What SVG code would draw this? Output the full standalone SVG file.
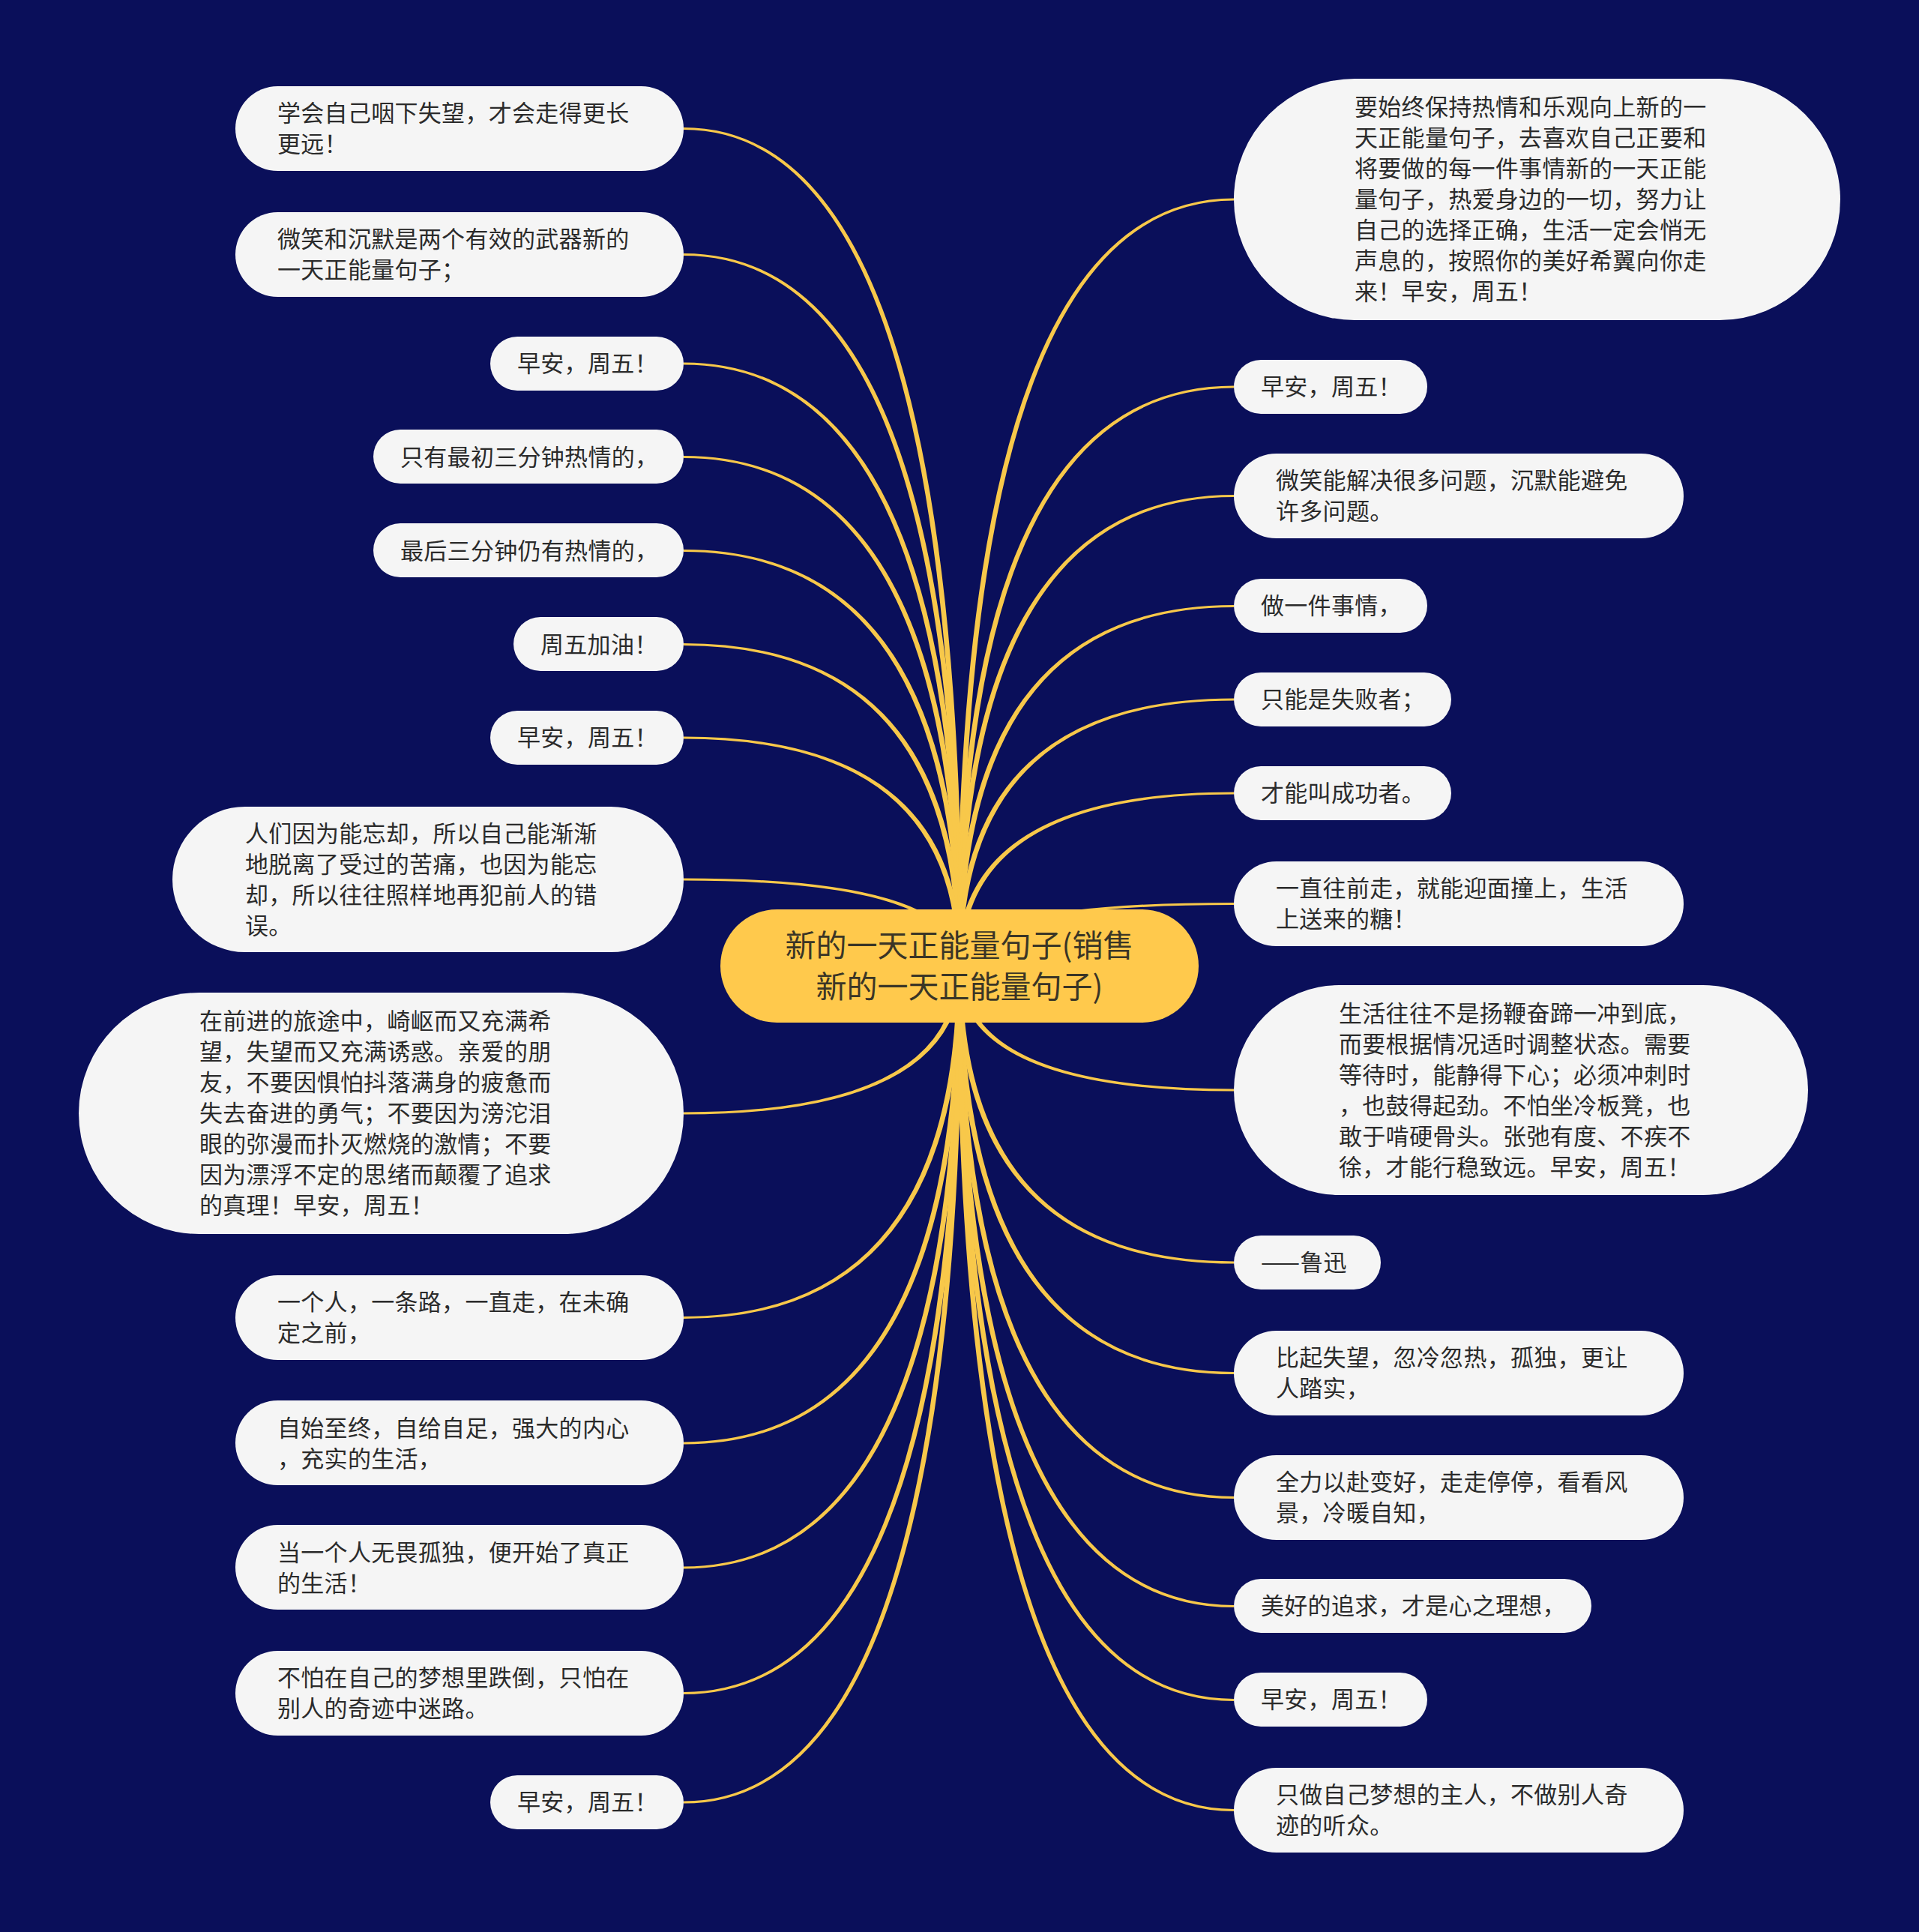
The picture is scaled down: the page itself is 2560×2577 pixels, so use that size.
<svg xmlns="http://www.w3.org/2000/svg" width="2560" height="2577" viewBox="0 0 2560 2577">
<style>
.bg{fill:#0A0F5A}
.node rect{fill:#F5F5F5}
.node text{font-family:"Noto Sans CJK SC","Noto Sans",sans-serif;font-size:31px;letter-spacing:0.3px;fill:#2B2B2B}
.root rect{fill:#FFC94C}
.root text{font-family:"Noto Sans CJK SC","Noto Sans",sans-serif;font-size:41px;fill:#3A3526;text-anchor:middle}
.links path{fill:#F8C84A;stroke:none}
</style>
<rect class="bg" x="0" y="0" width="2560" height="2577"/>
<g id="connectors" class="links">
<path d="M1283.5 1288 Q1283.5 169.9 912 169.9 L912 173.1 Q1276.5 173.1 1276.5 1288 Z"/>
<path d="M1283.5 1288 Q1283.5 337.9 912 337.9 L912 341.1 Q1276.5 341.1 1276.5 1288 Z"/>
<path d="M1283.5 1288 Q1283.5 483.4 912 483.4 L912 486.6 Q1276.5 486.6 1276.5 1288 Z"/>
<path d="M1283.5 1288 Q1283.5 607.9 912 607.9 L912 611.1 Q1276.5 611.1 1276.5 1288 Z"/>
<path d="M1283.5 1288 Q1283.5 732.9 912 732.9 L912 736.1 Q1276.5 736.1 1276.5 1288 Z"/>
<path d="M1283.5 1288 Q1283.5 857.9 912 857.9 L912 861.1 Q1276.5 861.1 1276.5 1288 Z"/>
<path d="M1283.5 1288 Q1283.5 982.4 912 982.4 L912 985.6 Q1276.5 985.6 1276.5 1288 Z"/>
<path d="M1283.5 1288 Q1283.5 1171.4 912 1171.4 L912 1174.6 Q1276.5 1174.6 1276.5 1288 Z"/>
<path d="M1283.5 1288 Q1283.5 1486.6 912 1486.6 L912 1483.4 Q1276.5 1483.4 1276.5 1288 Z"/>
<path d="M1283.5 1288 Q1283.5 1759.1 912 1759.1 L912 1755.9 Q1276.5 1755.9 1276.5 1288 Z"/>
<path d="M1283.5 1288 Q1283.5 1926.6 912 1926.6 L912 1923.4 Q1276.5 1923.4 1276.5 1288 Z"/>
<path d="M1283.5 1288 Q1283.5 2092.6 912 2092.6 L912 2089.4 Q1276.5 2089.4 1276.5 1288 Z"/>
<path d="M1283.5 1288 Q1283.5 2260.1 912 2260.1 L912 2256.9 Q1276.5 2256.9 1276.5 1288 Z"/>
<path d="M1283.5 1288 Q1283.5 2405.6 912 2405.6 L912 2402.4 Q1276.5 2402.4 1276.5 1288 Z"/>
<path d="M1276.5 1288 Q1276.5 264.4 1646 264.4 L1646 267.6 Q1283.5 267.6 1283.5 1288 Z"/>
<path d="M1276.5 1288 Q1276.5 514.4 1646 514.4 L1646 517.6 Q1283.5 517.6 1283.5 1288 Z"/>
<path d="M1276.5 1288 Q1276.5 659.9 1646 659.9 L1646 663.1 Q1283.5 663.1 1283.5 1288 Z"/>
<path d="M1276.5 1288 Q1276.5 806.9 1646 806.9 L1646 810.1 Q1283.5 810.1 1283.5 1288 Z"/>
<path d="M1276.5 1288 Q1276.5 931.4 1646 931.4 L1646 934.6 Q1283.5 934.6 1283.5 1288 Z"/>
<path d="M1276.5 1288 Q1276.5 1056.4 1646 1056.4 L1646 1059.6 Q1283.5 1059.6 1283.5 1288 Z"/>
<path d="M1276.5 1288 Q1276.5 1203.9 1646 1203.9 L1646 1207.1 Q1283.5 1207.1 1283.5 1288 Z"/>
<path d="M1276.5 1288 Q1276.5 1455.6 1646 1455.6 L1646 1452.4 Q1283.5 1452.4 1283.5 1288 Z"/>
<path d="M1276.5 1288 Q1276.5 1685.6 1646 1685.6 L1646 1682.4 Q1283.5 1682.4 1283.5 1288 Z"/>
<path d="M1276.5 1288 Q1276.5 1833.1 1646 1833.1 L1646 1829.9 Q1283.5 1829.9 1283.5 1288 Z"/>
<path d="M1276.5 1288 Q1276.5 1999.1 1646 1999.1 L1646 1995.9 Q1283.5 1995.9 1283.5 1288 Z"/>
<path d="M1276.5 1288 Q1276.5 2144.1 1646 2144.1 L1646 2140.9 Q1283.5 2140.9 1283.5 1288 Z"/>
<path d="M1276.5 1288 Q1276.5 2269.1 1646 2269.1 L1646 2265.9 Q1283.5 2265.9 1283.5 1288 Z"/>
<path d="M1276.5 1288 Q1276.5 2416.1 1646 2416.1 L1646 2412.9 Q1283.5 2412.9 1283.5 1288 Z"/>
</g>
<g id="root" class="root">
<rect x="961" y="1213" width="638" height="151" rx="75.5"/>
<text><tspan x="1280" y="1276">新的一天正能量句子(销售</tspan><tspan x="1280" y="1331">新的一天正能量句子)</tspan></text>
</g>
<g id="L1" class="node"><rect x="314" y="115" width="598" height="113" rx="56.5"/><text><tspan x="370" y="162">学会自己咽下失望，才会走得更长</tspan><tspan x="370" y="203">更远！</tspan></text></g>
<g id="L2" class="node"><rect x="314" y="283" width="598" height="113" rx="56.5"/><text><tspan x="370" y="330">微笑和沉默是两个有效的武器新的</tspan><tspan x="370" y="371">一天正能量句子；</tspan></text></g>
<g id="L3" class="node"><rect x="654" y="449" width="258" height="72" rx="36"/><text x="690" y="496">早安，周五！</text></g>
<g id="L4" class="node"><rect x="498" y="573" width="414" height="72" rx="36"/><text x="534" y="620.5">只有最初三分钟热情的，</text></g>
<g id="L5" class="node"><rect x="498" y="698" width="414" height="72" rx="36"/><text x="534" y="745.5">最后三分钟仍有热情的，</text></g>
<g id="L6" class="node"><rect x="685" y="823" width="227" height="72" rx="36"/><text x="721" y="870.5">周五加油！</text></g>
<g id="L7" class="node"><rect x="654" y="948" width="258" height="72" rx="36"/><text x="690" y="995">早安，周五！</text></g>
<g id="L8" class="node"><rect x="230" y="1076" width="682" height="194" rx="97"/><text><tspan x="327" y="1122.5">人们因为能忘却，所以自己能渐渐</tspan><tspan x="327" y="1163.5">地脱离了受过的苦痛，也因为能忘</tspan><tspan x="327" y="1204.5">却，所以往往照样地再犯前人的错</tspan><tspan x="327" y="1245.5">误。</tspan></text></g>
<g id="L9" class="node"><rect x="105" y="1324" width="807" height="322" rx="161"/><text><tspan x="266" y="1373">在前进的旅途中，崎岖而又充满希</tspan><tspan x="266" y="1414">望，失望而又充满诱惑。亲爱的朋</tspan><tspan x="266" y="1455">友，不要因惧怕抖落满身的疲惫而</tspan><tspan x="266" y="1496">失去奋进的勇气；不要因为滂沱泪</tspan><tspan x="266" y="1537">眼的弥漫而扑灭燃烧的激情；不要</tspan><tspan x="266" y="1578">因为漂浮不定的思绪而颠覆了追求</tspan><tspan x="266" y="1619">的真理！早安，周五！</tspan></text></g>
<g id="L10" class="node"><rect x="314" y="1701" width="598" height="113" rx="56.5"/><text><tspan x="370" y="1748">一个人，一条路，一直走，在未确</tspan><tspan x="370" y="1789">定之前，</tspan></text></g>
<g id="L11" class="node"><rect x="314" y="1868" width="598" height="113" rx="56.5"/><text><tspan x="370" y="1915.5">自始至终，自给自足，强大的内心</tspan><tspan x="370" y="1956.5">，充实的生活，</tspan></text></g>
<g id="L12" class="node"><rect x="314" y="2034" width="598" height="113" rx="56.5"/><text><tspan x="370" y="2081.5">当一个人无畏孤独，便开始了真正</tspan><tspan x="370" y="2122.5">的生活！</tspan></text></g>
<g id="L13" class="node"><rect x="314" y="2202" width="598" height="113" rx="56.5"/><text><tspan x="370" y="2249">不怕在自己的梦想里跌倒，只怕在</tspan><tspan x="370" y="2290">别人的奇迹中迷路。</tspan></text></g>
<g id="L14" class="node"><rect x="654" y="2368" width="258" height="72" rx="36"/><text x="690" y="2415">早安，周五！</text></g>
<g id="R1" class="node"><rect x="1646" y="105" width="809" height="322" rx="161"/><text><tspan x="1807" y="154">要始终保持热情和乐观向上新的一</tspan><tspan x="1807" y="195">天正能量句子，去喜欢自己正要和</tspan><tspan x="1807" y="236">将要做的每一件事情新的一天正能</tspan><tspan x="1807" y="277">量句子，热爱身边的一切，努力让</tspan><tspan x="1807" y="318">自己的选择正确，生活一定会悄无</tspan><tspan x="1807" y="359">声息的，按照你的美好希翼向你走</tspan><tspan x="1807" y="400">来！早安，周五！</tspan></text></g>
<g id="R2" class="node"><rect x="1646" y="480" width="258" height="72" rx="36"/><text x="1682" y="527">早安，周五！</text></g>
<g id="R3" class="node"><rect x="1646" y="605" width="600" height="113" rx="56.5"/><text><tspan x="1702" y="652">微笑能解决很多问题，沉默能避免</tspan><tspan x="1702" y="693">许多问题。</tspan></text></g>
<g id="R4" class="node"><rect x="1646" y="772" width="258" height="72" rx="36"/><text x="1682" y="819">做一件事情，</text></g>
<g id="R5" class="node"><rect x="1646" y="897" width="290" height="72" rx="36"/><text x="1682" y="944">只能是失败者；</text></g>
<g id="R6" class="node"><rect x="1646" y="1022" width="290" height="72" rx="36"/><text x="1682" y="1069">才能叫成功者。</text></g>
<g id="R7" class="node"><rect x="1646" y="1149" width="600" height="113" rx="56.5"/><text><tspan x="1702" y="1196">一直往前走，就能迎面撞上，生活</tspan><tspan x="1702" y="1237">上送来的糖！</tspan></text></g>
<g id="R8" class="node"><rect x="1646" y="1314" width="766" height="280" rx="140"/><text><tspan x="1786" y="1362.5">生活往往不是扬鞭奋蹄一冲到底，</tspan><tspan x="1786" y="1403.5">而要根据情况适时调整状态。需要</tspan><tspan x="1786" y="1444.5">等待时，能静得下心；必须冲刺时</tspan><tspan x="1786" y="1485.5">，也鼓得起劲。不怕坐冷板凳，也</tspan><tspan x="1786" y="1526.5">敢于啃硬骨头。张弛有度、不疾不</tspan><tspan x="1786" y="1567.5">徐，才能行稳致远。早安，周五！</tspan></text></g>
<g id="R9" class="node"><rect x="1646" y="1648" width="196" height="72" rx="36"/><text x="1682" y="1695">——鲁迅</text></g>
<g id="R10" class="node"><rect x="1646" y="1775" width="600" height="113" rx="56.5"/><text><tspan x="1702" y="1822">比起失望，忽冷忽热，孤独，更让</tspan><tspan x="1702" y="1863">人踏实，</tspan></text></g>
<g id="R11" class="node"><rect x="1646" y="1941" width="600" height="113" rx="56.5"/><text><tspan x="1702" y="1988">全力以赴变好，走走停停，看看风</tspan><tspan x="1702" y="2029">景，冷暖自知，</tspan></text></g>
<g id="R12" class="node"><rect x="1646" y="2106" width="477" height="72" rx="36"/><text x="1682" y="2153">美好的追求，才是心之理想，</text></g>
<g id="R13" class="node"><rect x="1646" y="2231" width="258" height="72" rx="36"/><text x="1682" y="2278">早安，周五！</text></g>
<g id="R14" class="node"><rect x="1646" y="2358" width="600" height="113" rx="56.5"/><text><tspan x="1702" y="2405">只做自己梦想的主人，不做别人奇</tspan><tspan x="1702" y="2446">迹的听众。</tspan></text></g>
</svg>
